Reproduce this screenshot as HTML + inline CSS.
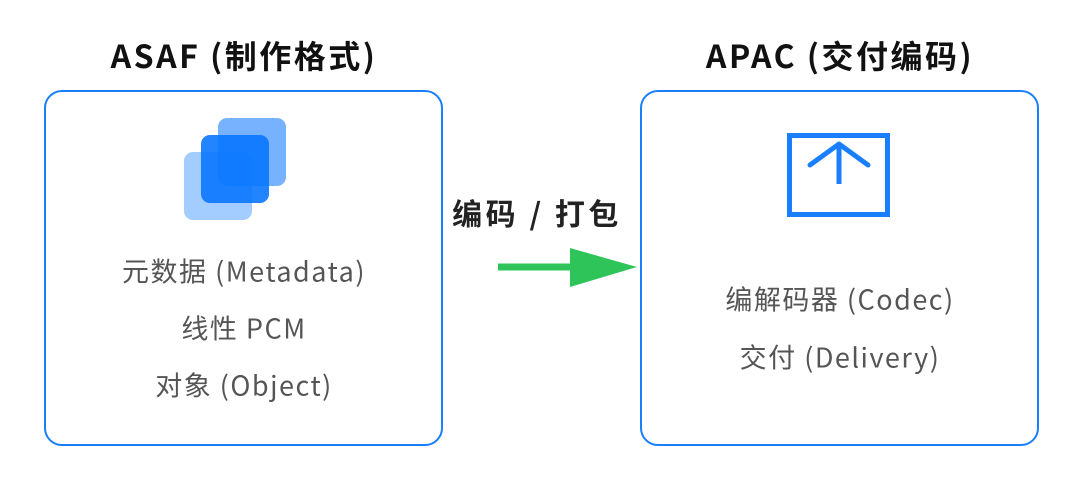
<!DOCTYPE html>
<html><head><meta charset="utf-8"><style>
body{margin:0;width:1080px;height:488px;background:#fff;position:relative;overflow:hidden;font-family:"Noto Sans CJK SC","Liberation Sans",sans-serif}
.t{position:absolute;white-space:nowrap;transform:translate(-50%,-50%)}
.title{font-weight:bold;font-size:32px;color:#111;letter-spacing:2.5px}
.l{font-size:27px;color:#555;letter-spacing:1.5px}
.box{position:absolute;border:2.5px solid #1a7fff;border-radius:18px;box-sizing:border-box}
</style></head><body>
<div class="box" style="left:44px;top:90px;width:399px;height:356px"></div>
<div class="box" style="left:640px;top:90px;width:399px;height:356px"></div>
<div class="t title" style="left:244px;top:55px">ASAF (制作格式)</div>
<div class="t title" style="left:840px;top:55px">APAC (交付编码)</div>
<div class="t l" style="left:244px;top:270px">元数据 (Metadata)</div>
<div class="t l" style="left:244px;top:327px">线性 PCM</div>
<div class="t l" style="left:244px;top:384px">对象 (Object)</div>
<div class="t l" style="left:840px;top:298px">编解码器 (Codec)</div>
<div class="t l" style="left:840px;top:356px">交付 (Delivery)</div>
<div class="t" style="left:537px;top:212px;font-weight:bold;font-size:30px;color:#222;letter-spacing:3.5px">编码 / 打包</div>
<svg width="1080" height="488" style="position:absolute;left:0;top:0">
<rect x="218" y="118" width="68" height="68" rx="9" fill="#1a7fff" opacity="0.6"/>
<rect x="184" y="152" width="68" height="68" rx="9" fill="#1a7fff" opacity="0.4"/>
<rect x="201" y="135" width="68" height="68" rx="9" fill="#0a77ff" opacity="0.9"/>
<rect x="789.5" y="135.5" width="98" height="79" fill="none" stroke="#1a7fff" stroke-width="5"/>
<polyline points="810,165 839,144 868,165" fill="none" stroke="#1a7fff" stroke-width="5" stroke-linecap="round" stroke-linejoin="round"/>
<line x1="839" y1="146" x2="839" y2="184" stroke="#1a7fff" stroke-width="5"/>
<line x1="498" y1="267" x2="575" y2="267" stroke="#2ec45a" stroke-width="7"/>
<polygon points="570,248 637,267 570,287" fill="#2ec45a"/>
</svg>
</body></html>
